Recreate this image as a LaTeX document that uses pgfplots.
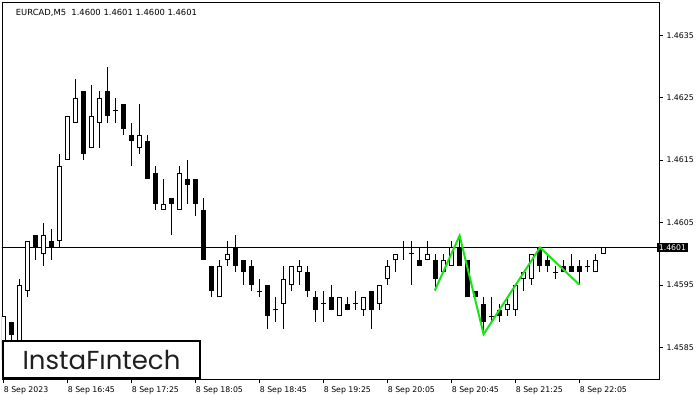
\documentclass[border=0pt]{standalone}
\usepackage{pgfplots}
\usepackage{pgfplotstable}
\pgfplotsset{compat=1.18}
\usepackage{fontspec}
\setmainfont{DejaVu Sans}
\newfontfamily\logofont{Poppins}
\definecolor{patgreen}{RGB}{20,230,20}

% i open high low close
\pgfplotstableread{
i o h l c
0 1.4583 1.4590 1.4581 1.4590
2 1.4586 1.4596 1.4585 1.4595
3 1.4594 1.4602 1.4593 1.4602
5 1.4600 1.4605 1.4598 1.4603
7 1.4602 1.4616 1.4601 1.4614
8 1.4615 1.4622 1.4615 1.4622
9 1.4621 1.4628 1.4621 1.4625
11 1.4617 1.4627 1.4617 1.4622
12 1.4621 1.4626 1.4617 1.4625
17 1.4617 1.4624 1.4616 1.4619
20 1.4607 1.4612 1.4607 1.4608
22 1.4607 1.4614 1.4607 1.4613
27 1.4593 1.4599 1.4593 1.4598
28 1.4599 1.4602 1.4598 1.4600
35 1.4592 1.4598 1.4588 1.4596
36 1.4595 1.4598 1.4594 1.4598
37 1.4597 1.4599 1.4595 1.4598
42 1.4590 1.4593 1.4590 1.4593
45 1.4591 1.4593 1.4590 1.4593
47 1.4592 1.4595 1.4591 1.4595
48 1.4596 1.4599 1.4595 1.4598
49 1.4599 1.4600 1.4597 1.4600
53 1.4599 1.4602 1.4599 1.4600
55 1.4597 1.4600 1.4597 1.4599
56 1.4598 1.4602 1.4598 1.4601
63 1.4591 1.4593 1.4590 1.4592
64 1.4591 1.4595 1.4590 1.4595
65 1.4596 1.4597 1.4594 1.4597
66 1.4596 1.4600 1.4595 1.4600
74 1.4597 1.4600 1.4597 1.4599
75 1.4600 1.4601 1.4600 1.4601
}\bull

\pgfplotstableread{
i o h l c
1 1.4589 1.4589 1.4585 1.4587
4 1.4603 1.4603 1.4599 1.4601
6 1.4602 1.4604 1.4599 1.4601
10 1.4626 1.4626 1.4615 1.4616
13 1.4626 1.4630 1.4621 1.4622
15 1.4624 1.4624 1.4619 1.4620
16 1.4619 1.4621 1.4614 1.4618
18 1.4618 1.4619 1.4612 1.4612
19 1.4613 1.4614 1.4607 1.4608
21 1.4609 1.4609 1.4603 1.4608
23 1.4612 1.4615 1.4608 1.4611
24 1.4612 1.4612 1.4606 1.4608
25 1.4607 1.4609 1.4599 1.4599
26 1.4598 1.4598 1.4593 1.4594
29 1.4601 1.4603 1.4597 1.4598
30 1.4599 1.4599 1.4595 1.4597
31 1.4598 1.4599 1.4594 1.4595
33 1.4595 1.4595 1.4588 1.4590
38 1.4597 1.4598 1.4593 1.4594
39 1.4593 1.4594 1.4589 1.4591
41 1.4593 1.4595 1.4591 1.4591
43 1.4592 1.4593 1.4591 1.4591
46 1.4594 1.4594 1.4588 1.4591
52 1.4599 1.4601 1.4598 1.4598
54 1.4599 1.4600 1.4594 1.4596
57 1.4601 1.4603 1.4598 1.4598
58 1.4599 1.4599 1.4593 1.4593
59 1.4594 1.4594 1.4593 1.4593
60 1.4592 1.4593 1.4587 1.4589
62 1.4591 1.4592 1.4589 1.4590
67 1.4601 1.4601 1.4597 1.4598
68 1.4599 1.4600 1.4597 1.4598
70 1.4598 1.4599 1.4597 1.4597
71 1.4598 1.4600 1.4597 1.4597
72 1.4598 1.4599 1.4595 1.4597
}\bear

\pgfplotstableread{
i o h l c
14 1.4623 1.4625 1.4621 1.4623
32 1.4594 1.4596 1.4593 1.4594
34 1.4591 1.4593 1.4589 1.4591
40 1.4592 1.4594 1.4589 1.4592
44 1.4592 1.4594 1.4591 1.4592
50 1.4601 1.4602 1.4599 1.4601
51 1.4600 1.4602 1.4595 1.4600
61 1.4590 1.4593 1.4589 1.4590
69 1.4597 1.4598 1.4596 1.4597
73 1.4598 1.4599 1.4597 1.4598
}\doji

\pgfplotsset{
  wick/.style={draw=none, mark=none, forget plot,
    error bars/.cd, y dir=plus, y explicit, error mark=none,
    error bar style={draw=black, line width=1pt}},
  body/.style={draw=none, mark=none, forget plot,
    error bars/.cd, y dir=plus, y explicit, error mark=none,
    error bar style={draw=#1, line width=5pt}},
  inner/.style={draw=none, mark=none, forget plot,
    error bars/.cd, y dir=plus, y explicit, error mark=none,
    error bar style={draw=white, line width=3pt}},
}

\begin{document}
\begin{tikzpicture}
\useasboundingbox (0,0) rectangle (700pt,400pt);
\begin{axis}[
  name=ax,
  at={(2pt,21pt)}, anchor=south west,
  scale only axis, width=657pt, height=377pt,
  xmin=-0.2, xmax=81.925, ymin=1.457992, ymax=1.464034,
  axis line style={black, line width=0.8pt},
  tick align=outside, major tick length=4pt,
  tick style={black, line width=0.8pt},
  xtick pos=bottom, ytick pos=right, yticklabel pos=right,
  xtick={0,8,16,24,32,40,48,56,64,72},
  xticklabels={8 Sep 2023,8 Sep 16:45,8 Sep 17:25,8 Sep 18:05,8 Sep 18:45,8 Sep 19:25,8 Sep 20:05,8 Sep 20:45,8 Sep 21:25,8 Sep 22:05},
  ytick={1.4585,1.4595,1.4605,1.4615,1.4625,1.4635},
  yticklabels={1.4585,1.4595,1.4605,1.4615,1.4625,1.4635},
  x tick label style={anchor=north west, xshift=-3.3pt, font=\fontsize{7.8}{9}\selectfont},
  y tick label style={anchor=west, font=\fontsize{7.8}{9}\selectfont},
  extra y ticks={1.4601}, extra y tick labels={1.4601},
  extra y tick style={major tick length=0pt,
    tick label style={fill=black, text=white, inner sep=1.6pt, xshift=-2pt}},
]
% current price line
\addplot[black, line width=0.8pt, forget plot] coordinates {(-1,1.4601) (83,1.4601)};
% wicks
\addplot[wick] table[x=i, y=l, y error plus expr=\thisrow{h}-\thisrow{l}] {\bull};
\addplot[wick] table[x=i, y=l, y error plus expr=\thisrow{h}-\thisrow{l}] {\bear};
\addplot[wick] table[x=i, y=l, y error plus expr=\thisrow{h}-\thisrow{l}] {\doji};
% bodies
\addplot[body=black] table[x=i, y=c, y error plus expr=\thisrow{o}-\thisrow{c}] {\bear};
\addplot[body=black] table[x=i, y=o, y error plus expr=\thisrow{c}-\thisrow{o}] {\bull};
\addplot[inner] table[x=i, y expr=\thisrow{o}+0.000016, y error plus expr=\thisrow{c}-\thisrow{o}-0.000032] {\bull};
\addplot[body=black] table[x=i, y expr=\thisrow{o}-0.000008, y error plus expr=0.000016] {\doji};
% pattern
\addplot[patgreen, line width=2pt] coordinates {(53.9,1.45941) (57,1.46029) (60,1.45871) (67.05,1.4601) (72,1.4595)};
\end{axis}
\node[anchor=west, inner sep=0pt, font=\fontsize{8.4}{10}\selectfont] at ([xshift=13.7pt, yshift=-10.7pt]ax.north west) {EURCAD,M5\ \ 1.4600 1.4601 1.4600 1.4601};
\node[draw=black, line width=2pt, fill=white, anchor=south west, outer sep=0pt, inner sep=0pt,
  minimum width=197pt, minimum height=37pt, text=black!88,
  font=\logofont\fontsize{26}{26}\selectfont] at ([xshift=1pt, yshift=1pt]ax.south west) {InstaFıntech};
\end{tikzpicture}
\end{document}
